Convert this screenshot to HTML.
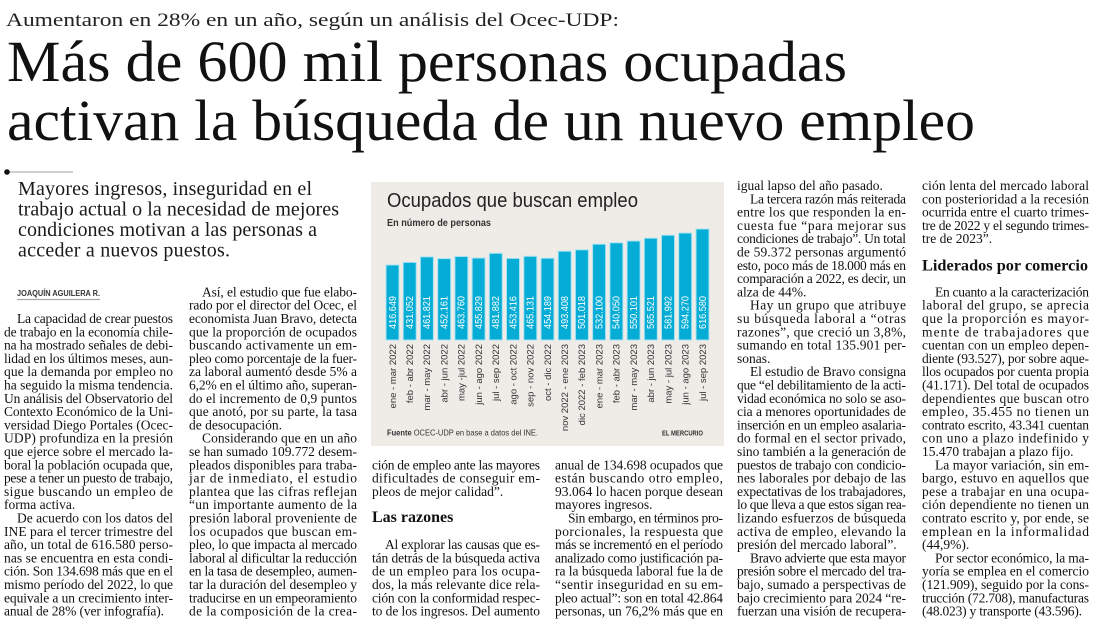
<!DOCTYPE html>
<html lang="es">
<head>
<meta charset="utf-8">
<title>Más de 600 mil personas ocupadas activan la búsqueda de un nuevo empleo</title>
<style>
  html,body{margin:0;padding:0;background:#fff;}
  svg{display:block;}
  .b{font-family:"Liberation Serif",serif;font-size:13.5px;fill:#111;}
  .vl{font-family:"Liberation Sans",sans-serif;font-size:10px;fill:#fff;}
  .xl{font-family:"Liberation Sans",sans-serif;font-size:9.5px;fill:#333;}
</style>
</head>
<body>
<svg width="1100" height="624" viewBox="0 0 1100 624" xmlns="http://www.w3.org/2000/svg">
<rect width="1100" height="624" fill="#fff"/>

<!-- Header -->
<text x="6" y="26" font-family="Liberation Serif, serif" font-size="19" fill="#222" textLength="613" lengthAdjust="spacingAndGlyphs">Aumentaron en 28% en un año, según un análisis del Ocec-UDP:</text>
<text x="7" y="81" font-family="Liberation Serif, serif" font-size="58" fill="#111" textLength="840" lengthAdjust="spacingAndGlyphs">Más de 600 mil personas ocupadas</text>
<text x="7" y="140" font-family="Liberation Serif, serif" font-size="58" fill="#111" textLength="968" lengthAdjust="spacingAndGlyphs">activan la búsqueda de un nuevo empleo</text>

<!-- bullet line -->
<line x1="7" y1="172" x2="73" y2="172" stroke="#cfcfcf" stroke-width="2"/>
<circle cx="7" cy="172" r="2.8" fill="#111"/>

<!-- Deck -->
<g font-family="Liberation Serif, serif" font-size="20" fill="#1a1a1a">
<text x="18" y="195" textLength="294">Mayores ingresos, inseguridad en el</text>
<text x="18" y="215.5" textLength="321">trabajo actual o la necesidad de mejores</text>
<text x="18" y="236" textLength="299">condiciones motivan a las personas a</text>
<text x="18" y="256.5" textLength="212">acceder a nuevos puestos.</text>
</g>

<!-- Byline -->
<text x="17" y="296" font-family="Liberation Sans, sans-serif" font-weight="bold" font-size="8" fill="#333" textLength="83" lengthAdjust="spacingAndGlyphs">JOAQUÍN AGUILERA R.</text>
<line x1="17" y1="299.5" x2="100" y2="299.5" stroke="#aaa" stroke-width="1.2"/>

<!-- Column 1 -->
<g class="b">
<text x="17" y="323.0" textLength="156">La capacidad de crear puestos</text>
<text x="4" y="336.3" textLength="169">de trabajo en la economía chile-</text>
<text x="4" y="349.6" textLength="169">na ha mostrado señales de debi-</text>
<text x="4" y="362.9" textLength="169">lidad en los últimos meses, aun-</text>
<text x="4" y="376.2" textLength="169">que la demanda por empleo no</text>
<text x="4" y="389.5" textLength="169">ha seguido la misma tendencia.</text>
<text x="4" y="402.8" textLength="169">Un análisis del Observatorio del</text>
<text x="4" y="416.1" textLength="169">Contexto Económico de la Uni-</text>
<text x="4" y="429.4" textLength="169">versidad Diego Portales (Ocec-</text>
<text x="4" y="442.7" textLength="169">UDP) profundiza en la presión</text>
<text x="4" y="456.0" textLength="169">que ejerce sobre el mercado la-</text>
<text x="4" y="469.3" textLength="169">boral la población ocupada que,</text>
<text x="4" y="482.6" textLength="169">pese a tener un puesto de trabajo,</text>
<text x="4" y="495.9" textLength="169">sigue buscando un empleo de</text>
<text x="4" y="509.2">forma activa.</text>
<text x="17" y="522.5" textLength="156">De acuerdo con los datos del</text>
<text x="4" y="535.8" textLength="169">INE para el tercer trimestre del</text>
<text x="4" y="549.1" textLength="169">año, un total de 616.580 perso-</text>
<text x="4" y="562.4" textLength="169">nas se encuentra en esta condi-</text>
<text x="4" y="575.7" textLength="169">ción. Son 134.698 más que en el</text>
<text x="4" y="589.0" textLength="169">mismo período del 2022, lo que</text>
<text x="4" y="602.3" textLength="169">equivale a un crecimiento inter-</text>
<text x="4" y="615.6" textLength="160">anual de 28% (ver infografía).</text>
</g>

<!-- Column 2 -->
<g class="b">
<text x="202" y="296.4" textLength="155">Así, el estudio que fue elabo-</text>
<text x="189" y="309.7" textLength="168">rado por el director del Ocec, el</text>
<text x="189" y="323.0" textLength="168">economista Juan Bravo, detecta</text>
<text x="189" y="336.3" textLength="168">que la proporción de ocupados</text>
<text x="189" y="349.6" textLength="168">buscando activamente un em-</text>
<text x="189" y="362.9" textLength="168">pleo como porcentaje de la fuer-</text>
<text x="189" y="376.2" textLength="168">za laboral aumentó desde 5% a</text>
<text x="189" y="389.5" textLength="168">6,2% en el último año, superan-</text>
<text x="189" y="402.8" textLength="168">do el incremento de 0,9 puntos</text>
<text x="189" y="416.1" textLength="168">que anotó, por su parte, la tasa</text>
<text x="189" y="429.4">de desocupación.</text>
<text x="202" y="442.7" textLength="155">Considerando que en un año</text>
<text x="189" y="456.0" textLength="168">se han sumado 109.772 desem-</text>
<text x="189" y="469.3" textLength="168">pleados disponibles para traba-</text>
<text x="189" y="482.6" textLength="168">jar de inmediato, el estudio</text>
<text x="189" y="495.9" textLength="168">plantea que las cifras reflejan</text>
<text x="189" y="509.2" textLength="168">“un importante aumento de la</text>
<text x="189" y="522.5" textLength="168">presión laboral proveniente de</text>
<text x="189" y="535.8" textLength="168">los ocupados que buscan em-</text>
<text x="189" y="549.1" textLength="168">pleo, lo que impacta al mercado</text>
<text x="189" y="562.4" textLength="168">laboral al dificultar la reducción</text>
<text x="189" y="575.7" textLength="168">en la tasa de desempleo, aumen-</text>
<text x="189" y="589.0" textLength="168">tar la duración del desempleo y</text>
<text x="189" y="602.3" textLength="168">traducirse en un empeoramiento</text>
<text x="189" y="615.6" textLength="168">de la composición de la crea-</text>
</g>

<!-- Chart -->
<rect x="371" y="182" width="353" height="264" fill="#efece8"/>
<text x="387" y="207" font-family="Liberation Sans, sans-serif" font-size="20" fill="#222" textLength="251" lengthAdjust="spacingAndGlyphs">Ocupados que buscan empleo</text>
<text x="387" y="226" font-family="Liberation Sans, sans-serif" font-weight="bold" font-size="10" fill="#333" textLength="104" lengthAdjust="spacingAndGlyphs">En número de personas</text>

<g fill="#05acd5" stroke="#a9e3f2" stroke-width="1">
<rect x="386.0" y="265.0" width="13" height="75.0"/>
<rect x="403.2" y="262.4" width="13" height="77.6"/>
<rect x="420.4" y="256.9" width="13" height="83.1"/>
<rect x="437.7" y="258.6" width="13" height="81.4"/>
<rect x="454.9" y="256.5" width="13" height="83.5"/>
<rect x="472.1" y="258.0" width="13" height="82.0"/>
<rect x="489.3" y="253.3" width="13" height="86.7"/>
<rect x="506.5" y="258.4" width="13" height="81.6"/>
<rect x="523.8" y="256.3" width="13" height="83.7"/>
<rect x="541.0" y="258.2" width="13" height="81.8"/>
<rect x="558.2" y="251.2" width="13" height="88.8"/>
<rect x="575.4" y="249.8" width="13" height="90.2"/>
<rect x="592.6" y="244.2" width="13" height="95.8"/>
<rect x="609.9" y="242.8" width="13" height="97.2"/>
<rect x="627.1" y="241.0" width="13" height="99.0"/>
<rect x="644.3" y="238.2" width="13" height="101.8"/>
<rect x="661.5" y="235.2" width="13" height="104.8"/>
<rect x="678.7" y="233.0" width="13" height="107.0"/>
<rect x="696.0" y="229.0" width="13" height="111.0"/>
</g>

<g class="vl">
<text transform="translate(395.8,329) rotate(-90)" textLength="33" lengthAdjust="spacingAndGlyphs">416.649</text>
<text transform="translate(413.0,329) rotate(-90)" textLength="33" lengthAdjust="spacingAndGlyphs">431.052</text>
<text transform="translate(430.2,329) rotate(-90)" textLength="33" lengthAdjust="spacingAndGlyphs">461.821</text>
<text transform="translate(447.5,329) rotate(-90)" textLength="33" lengthAdjust="spacingAndGlyphs">452.161</text>
<text transform="translate(464.7,329) rotate(-90)" textLength="33" lengthAdjust="spacingAndGlyphs">463.760</text>
<text transform="translate(481.9,329) rotate(-90)" textLength="33" lengthAdjust="spacingAndGlyphs">455.829</text>
<text transform="translate(499.1,329) rotate(-90)" textLength="33" lengthAdjust="spacingAndGlyphs">481.882</text>
<text transform="translate(516.3,329) rotate(-90)" textLength="33" lengthAdjust="spacingAndGlyphs">453.416</text>
<text transform="translate(533.6,329) rotate(-90)" textLength="33" lengthAdjust="spacingAndGlyphs">465.131</text>
<text transform="translate(550.8,329) rotate(-90)" textLength="33" lengthAdjust="spacingAndGlyphs">454.189</text>
<text transform="translate(568.0,329) rotate(-90)" textLength="33" lengthAdjust="spacingAndGlyphs">493.408</text>
<text transform="translate(585.2,329) rotate(-90)" textLength="33" lengthAdjust="spacingAndGlyphs">501.018</text>
<text transform="translate(602.4,329) rotate(-90)" textLength="33" lengthAdjust="spacingAndGlyphs">532.100</text>
<text transform="translate(619.7,329) rotate(-90)" textLength="33" lengthAdjust="spacingAndGlyphs">540.050</text>
<text transform="translate(636.9,329) rotate(-90)" textLength="33" lengthAdjust="spacingAndGlyphs">550.101</text>
<text transform="translate(654.1,329) rotate(-90)" textLength="33" lengthAdjust="spacingAndGlyphs">565.521</text>
<text transform="translate(671.3,329) rotate(-90)" textLength="33" lengthAdjust="spacingAndGlyphs">581.992</text>
<text transform="translate(688.5,329) rotate(-90)" textLength="33" lengthAdjust="spacingAndGlyphs">594.270</text>
<text transform="translate(705.8,329) rotate(-90)" textLength="33" lengthAdjust="spacingAndGlyphs">616.580</text>
</g>

<g class="xl" text-anchor="end">
<text transform="translate(395.8,344) rotate(-90)">ene - mar 2022</text>
<text transform="translate(413.0,344) rotate(-90)">feb - abr 2022</text>
<text transform="translate(430.2,344) rotate(-90)">mar - may 2022</text>
<text transform="translate(447.5,344) rotate(-90)">abr - jun 2022</text>
<text transform="translate(464.7,344) rotate(-90)">may -jul 2022</text>
<text transform="translate(481.9,344) rotate(-90)">jun - ago 2022</text>
<text transform="translate(499.1,344) rotate(-90)">jul - sep 2022</text>
<text transform="translate(516.3,344) rotate(-90)">ago - oct 2022</text>
<text transform="translate(533.6,344) rotate(-90)">sep - nov 2022</text>
<text transform="translate(550.8,344) rotate(-90)">oct - dic 2022</text>
<text transform="translate(568.0,344) rotate(-90)">nov 2022 - ene 2023</text>
<text transform="translate(585.2,344) rotate(-90)">dic 2022 - feb 2023</text>
<text transform="translate(602.4,344) rotate(-90)">ene - mar 2023</text>
<text transform="translate(619.7,344) rotate(-90)">feb - abr 2023</text>
<text transform="translate(636.9,344) rotate(-90)">mar - may 2023</text>
<text transform="translate(654.1,344) rotate(-90)">abr - jun 2023</text>
<text transform="translate(671.3,344) rotate(-90)">may - jul 2023</text>
<text transform="translate(688.5,344) rotate(-90)">jun - ago 2023</text>
<text transform="translate(705.8,344) rotate(-90)">jul - sep 2023</text>
</g>

<text x="387" y="435.5" font-family="Liberation Sans, sans-serif" font-size="8.5" fill="#333" textLength="151" lengthAdjust="spacingAndGlyphs"><tspan font-weight="bold">Fuente</tspan>  OCEC-UDP en base a datos del INE.</text>
<text x="662" y="435.5" font-family="Liberation Sans, sans-serif" font-weight="bold" font-size="7" fill="#333" textLength="41" lengthAdjust="spacingAndGlyphs">EL MERCURIO</text>

<!-- Column 3 -->
<g class="b">
<text x="372" y="469.3" textLength="168">ción de empleo ante las mayores</text>
<text x="372" y="482.6" textLength="168">dificultades de conseguir em-</text>
<text x="372" y="495.9">pleos de mejor calidad”.</text>
<text x="372" y="522" font-weight="bold" font-size="16" fill="#111">Las razones</text>
<text x="385" y="549.1" textLength="155">Al explorar las causas que es-</text>
<text x="372" y="562.4" textLength="168">tán detrás de la búsqueda activa</text>
<text x="372" y="575.7" textLength="168">de un empleo para los ocupa-</text>
<text x="372" y="589.0" textLength="168">dos, la más relevante dice rela-</text>
<text x="372" y="602.3" textLength="168">ción con la conformidad respec-</text>
<text x="372" y="615.6" textLength="168">to de los ingresos. Del aumento</text>
</g>

<!-- Column 4 -->
<g class="b">
<text x="555" y="469.3" textLength="168">anual de 134.698 ocupados que</text>
<text x="555" y="482.6" textLength="168">están buscando otro empleo,</text>
<text x="555" y="495.9" textLength="168">93.064 lo hacen porque desean</text>
<text x="555" y="509.2">mayores ingresos.</text>
<text x="568" y="522.5" textLength="155">Sin embargo, en términos pro-</text>
<text x="555" y="535.8" textLength="168">porcionales, la respuesta que</text>
<text x="555" y="549.1" textLength="168">más se incrementó en el período</text>
<text x="555" y="562.4" textLength="168">analizado como justificación pa-</text>
<text x="555" y="575.7" textLength="168">ra la búsqueda laboral fue la de</text>
<text x="555" y="589.0" textLength="168">“sentir inseguridad en su em-</text>
<text x="555" y="602.3" textLength="168">pleo actual”: son en total 42.864</text>
<text x="555" y="615.6" textLength="168">personas, un 76,2% más que en</text>
</g>

<!-- Column 5 -->
<g class="b">
<text x="737" y="190.0">igual lapso del año pasado.</text>
<text x="750" y="203.3" textLength="156">La tercera razón más reiterada</text>
<text x="737" y="216.6" textLength="169">entre los que responden la en-</text>
<text x="737" y="229.9" textLength="169">cuesta fue “para mejorar sus</text>
<text x="737" y="243.2" textLength="169">condiciones de trabajo”. Un total</text>
<text x="737" y="256.5" textLength="169">de 59.372 personas argumentó</text>
<text x="737" y="269.8" textLength="169">esto, poco más de 18.000 más en</text>
<text x="737" y="283.1" textLength="169">comparación a 2022, es decir, un</text>
<text x="737" y="296.4">alza de 44%.</text>
<text x="750" y="309.7" textLength="156">Hay un grupo que atribuye</text>
<text x="737" y="323.0" textLength="169">su búsqueda laboral a “otras</text>
<text x="737" y="336.3" textLength="169">razones”, que creció un 3,8%,</text>
<text x="737" y="349.6" textLength="169">sumando en total 135.901 per-</text>
<text x="737" y="362.9">sonas.</text>
<text x="750" y="376.2" textLength="156">El estudio de Bravo consigna</text>
<text x="737" y="389.5" textLength="169">que “el debilitamiento de la acti-</text>
<text x="737" y="402.8" textLength="169">vidad económica no solo se aso-</text>
<text x="737" y="416.1" textLength="169">cia a menores oportunidades de</text>
<text x="737" y="429.4" textLength="169">inserción en un empleo asalaria-</text>
<text x="737" y="442.7" textLength="169">do formal en el sector privado,</text>
<text x="737" y="456.0" textLength="169">sino también a la generación de</text>
<text x="737" y="469.3" textLength="169">puestos de trabajo con condicio-</text>
<text x="737" y="482.6" textLength="169">nes laborales por debajo de las</text>
<text x="737" y="495.9" textLength="169">expectativas de los trabajadores,</text>
<text x="737" y="509.2" textLength="169">lo que lleva a que estos sigan rea-</text>
<text x="737" y="522.5" textLength="169">lizando esfuerzos de búsqueda</text>
<text x="737" y="535.8" textLength="169">activa de empleo, elevando la</text>
<text x="737" y="549.1">presión del mercado laboral”.</text>
<text x="750" y="562.4" textLength="156">Bravo advierte que esta mayor</text>
<text x="737" y="575.7" textLength="169">presión sobre el mercado del tra-</text>
<text x="737" y="589.0" textLength="169">bajo, sumado a perspectivas de</text>
<text x="737" y="602.3" textLength="169">bajo crecimiento para 2024 “re-</text>
<text x="737" y="615.6" textLength="169">fuerzan una visión de recupera-</text>
</g>

<!-- Column 6 -->
<g class="b">
<text x="922" y="190.0" textLength="167">ción lenta del mercado laboral</text>
<text x="922" y="203.3" textLength="167">con posterioridad a la recesión</text>
<text x="922" y="216.6" textLength="167">ocurrida entre el cuarto trimes-</text>
<text x="922" y="229.9" textLength="167">tre de 2022 y el segundo trimes-</text>
<text x="922" y="243.2">tre de 2023”.</text>
<text x="922" y="270.5" font-weight="bold" font-size="16" fill="#111" textLength="166" lengthAdjust="spacingAndGlyphs">Liderados por comercio</text>
<text x="935" y="296.4" textLength="154">En cuanto a la caracterización</text>
<text x="922" y="309.7" textLength="167">laboral del grupo, se aprecia</text>
<text x="922" y="323.0" textLength="167">que la proporción es mayor-</text>
<text x="922" y="336.3" textLength="167">mente de trabajadores que</text>
<text x="922" y="349.6" textLength="167">cuentan con un empleo depen-</text>
<text x="922" y="362.9" textLength="167">diente (93.527), por sobre aque-</text>
<text x="922" y="376.2" textLength="167">llos ocupados por cuenta propia</text>
<text x="922" y="389.5" textLength="167">(41.171). Del total de ocupados</text>
<text x="922" y="402.8" textLength="167">dependientes que buscan otro</text>
<text x="922" y="416.1" textLength="167">empleo, 35.455 no tienen un</text>
<text x="922" y="429.4" textLength="167">contrato escrito, 43.341 cuentan</text>
<text x="922" y="442.7" textLength="167">con uno a plazo indefinido y</text>
<text x="922" y="456.0">15.470 trabajan a plazo fijo.</text>
<text x="935" y="469.3" textLength="154">La mayor variación, sin em-</text>
<text x="922" y="482.6" textLength="167">bargo, estuvo en aquellos que</text>
<text x="922" y="495.9" textLength="167">pese a trabajar en una ocupa-</text>
<text x="922" y="509.2" textLength="167">ción dependiente no tienen un</text>
<text x="922" y="522.5" textLength="167">contrato escrito y, por ende, se</text>
<text x="922" y="535.8" textLength="167">emplean en la informalidad</text>
<text x="922" y="549.1">(44,9%).</text>
<text x="935" y="562.4" textLength="154">Por sector económico, la ma-</text>
<text x="922" y="575.7" textLength="167">yoría se emplea en el comercio</text>
<text x="922" y="589.0" textLength="167">(121.909), seguido por la cons-</text>
<text x="922" y="602.3" textLength="167">trucción (72.708), manufacturas</text>
<text x="922" y="615.6" textLength="160">(48.023) y transporte (43.596).</text>
</g>
</svg>
</body>
</html>
